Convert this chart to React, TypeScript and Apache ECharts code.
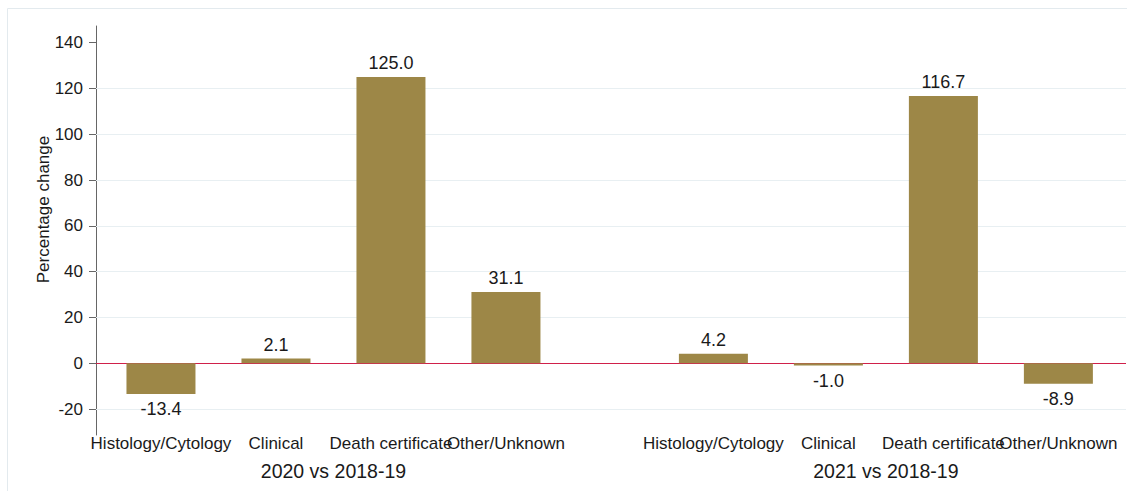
import React, { useEffect, useRef } from "react";
import * as echarts from "echarts";

const categories = ["Histology/Cytology", "Clinical", "Death certificate", "Other/Unknown"];
const groups = ["2020 vs 2018-19", "2021 vs 2018-19"];
const values2020 = [-13.4, 2.1, 125.0, 31.1];
const values2021 = [4.2, -1.0, 116.7, -8.9];
const yTicks = [-20, 0, 20, 40, 60, 80, 100, 120, 140];
const gridValues = [-20, 20, 40, 60, 80, 100, 120];

const GROUP_STEP = 4.804;
const FONT = "'Liberation Sans', Arial, sans-serif";
const FS = 17;

export default function App() {
  const ref = useRef<HTMLDivElement>(null);
  useEffect(() => {
    if (!ref.current) return;
    const chart = echarts.init(ref.current, null, { renderer: "svg" });
    const allValues = [values2020, values2021];
    const barData: any[] = [];
    allValues.forEach((vals, g) => {
      vals.forEach((v, i) => {
        const x = i + g * GROUP_STEP;
        barData.push({
          value: [x, v],
          label: v < 0 ? { position: "bottom", distance: 6 } : { position: "top", distance: 5 },
        });
      });
    });
    const groupPos = groups.map((_, g) => g * GROUP_STEP + 1.5);
    const xMin = -0.565;
    const xMax = 8.392;
    const baseX = {
      type: "value",
      min: xMin,
      max: xMax,
      position: "bottom",
      axisLine: { show: false },
      axisTick: { show: false },
      splitLine: { show: false },
    };
    // one label axis per category, each holding that category's positions in both groups
    const categoryAxes = categories.map((name, i) => ({
      ...baseX,
      axisLabel: {
        customValues: groups.map((_, g) => i + g * GROUP_STEP),
        showMinLabel: true,
        showMaxLabel: true,
        hideOverlap: false,
        formatter: () => name,
        color: "#1a1a1a",
        fontSize: FS,
        fontFamily: FONT,
        margin: 0,
      },
    }));
    const groupAxis = {
      ...baseX,
      offset: 26,
      axisLabel: {
        customValues: groupPos,
        showMinLabel: true,
        showMaxLabel: true,
        formatter: (v: number) => groups[groupPos.findIndex((p) => Math.abs(p - v) < 1e-6)] || "",
        color: "#1a1a1a",
        fontSize: 19.5,
        fontFamily: FONT,
        margin: 0,
      },
    };
    chart.setOption({
      animation: false,
      grid: { left: 96, right: 1, top: 26, bottom: 56, containLabel: false },
      graphic: [
        {
          type: "rect",
          shape: { x: 7.5, y: 8.5, width: 1130, height: 500 },
          style: { fill: "none", stroke: "#e3eaee", lineWidth: 1 },
          silent: true,
          z: -10,
        },
      ],
      xAxis: [...categoryAxes, groupAxis],
      yAxis: {
        type: "value",
        min: -31.3,
        max: 147.3,
        name: "Percentage change",
        nameLocation: "middle",
        nameGap: 44,
        nameMoveOverlap: false,
        nameTextStyle: { fontSize: FS, fontFamily: FONT, color: "#1a1a1a", padding: [0, 0, 0, 42] },
        axisLine: { show: true, onZero: false, lineStyle: { color: "#666", width: 1 } },
        axisTick: { show: true, customValues: yTicks, length: 7, lineStyle: { color: "#666" } },
        splitLine: { show: false },
        axisLabel: {
          customValues: yTicks,
          showMinLabel: true,
          showMaxLabel: true,
          color: "#1a1a1a",
          fontSize: FS,
          fontFamily: FONT,
          margin: 13,
        },
      },
      series: [
        {
          type: "bar",
          xAxisIndex: 0,
          data: barData,
          barWidth: 69,
          itemStyle: { color: "#9d8747" },
          label: {
            show: true,
            formatter: (p: any) => p.value[1].toFixed(1),
            color: "#1a1a1a",
            fontSize: 18,
            fontFamily: FONT,
          },
          markLine: {
            silent: true,
            symbol: "none",
            label: { show: false },
            z: 1,
            data: [
              ...gridValues.map((v) => ({ yAxis: v, lineStyle: { color: "#e8eff2", width: 1, type: "solid" } })),
              { yAxis: 0, lineStyle: { color: "#d0204a", width: 1.2, type: "solid" } },
            ],
          },
        },
      ],
    });
    return () => chart.dispose();
  }, []);
  return <div ref={ref} style={{ width: 1127, height: 491, position: "absolute", left: 0, top: 0 }} />;
}
